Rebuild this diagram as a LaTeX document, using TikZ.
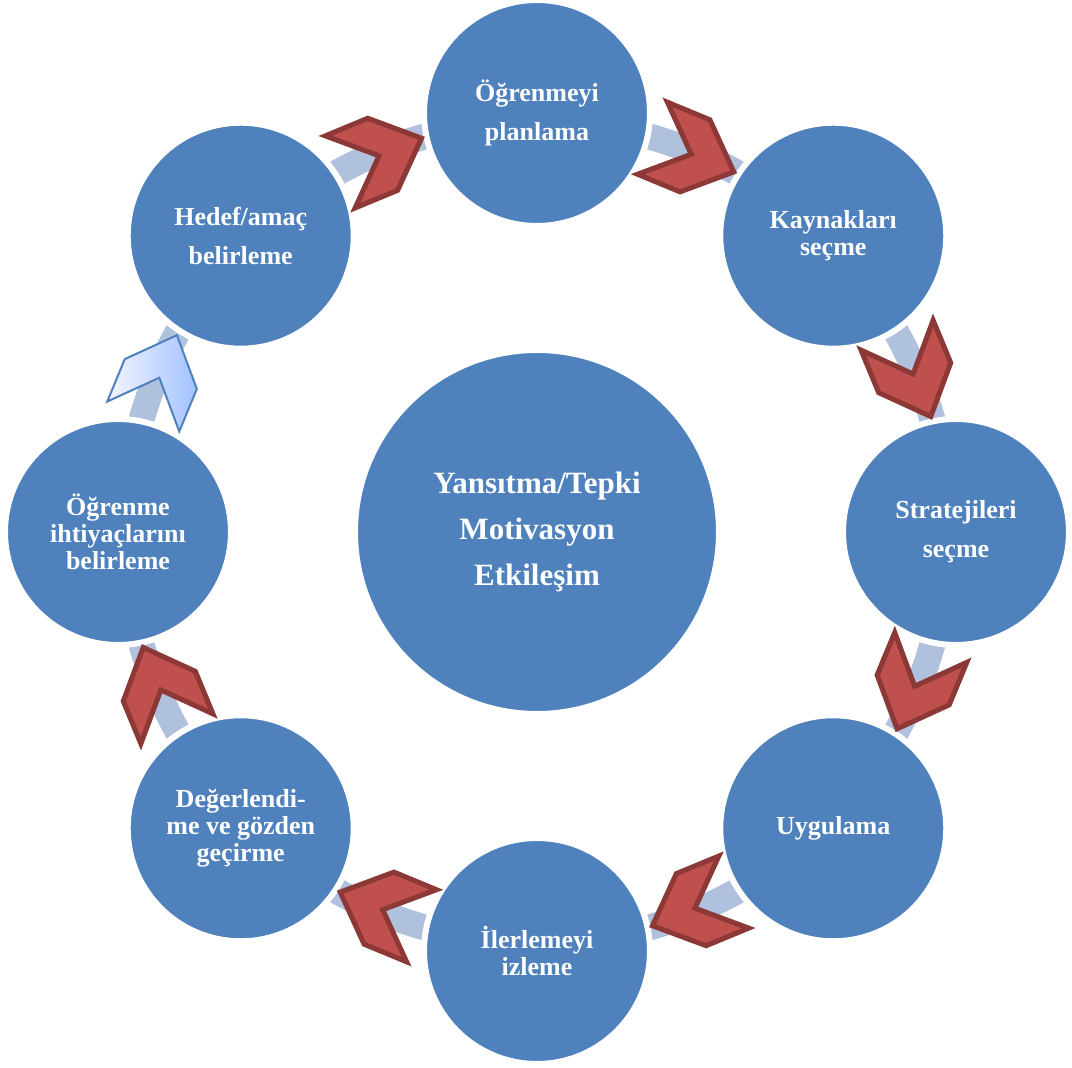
\documentclass[tikz,border=0pt]{standalone}
\usepackage{fontspec}
\setmainfont{Liberation Serif}

\definecolor{circblue}{HTML}{4F81BD}
\definecolor{bandblue}{HTML}{B0C1DE}
\definecolor{chevred}{HTML}{C0504D}
\definecolor{chevline}{HTML}{8C3836}
\definecolor{chevlight}{HTML}{A3C2FF}

\tikzset{
  stage/.style={circle, fill=circblue, draw=white, line width=3pt,
    minimum size=113pt, inner sep=0pt, text=white, align=center,
    font=\bfseries\fontsize{13}{13.5}\selectfont},
  hub/.style={stage, minimum size=182pt,
    font=\bfseries\fontsize{15.5}{23}\selectfont},
  band/.style={line width=13pt, bandblue},
  redchev/.style={fill=chevred, draw=chevline, line width=2.5pt, line join=miter},
  bluechev/.style={left color=blue!4!white, right color=chevlight,
    draw=circblue, line width=1pt, line join=miter}
}

% chevron on the ring, pointing clockwise
\newcommand{\arrowchev}[2][redchev]{%
  \path[#1, shift={(#2:408)}, rotate=#2-90]
    (-44,39) -- (2,39) -- (44,0) -- (2,-39) -- (-44,-39) -- (-2,0) -- cycle;}

\begin{document}
\begin{tikzpicture}[x=0.5pt, y=0.5pt]
  \useasboundingbox (-537,-536) rectangle (535,532);

  % Ring behind the circles
  \draw[band] (0,0) circle (411);

  % Centre circle
  \node[hub] (merkez) at (0,0) {Yansıtma/Tepki\\Motivasyon\\Etkileşim};

  % Stages of the cycle
  \node[stage] (planlama) at (90:419) {Öğrenmeyi\\[6pt]planlama};
  \node[stage] (kaynak) at (45:419) {Kaynakları\\seçme};
  \node[stage] (strateji) at (0:419) {Stratejileri\\[6pt]seçme};
  \node[stage] (uygulama) at (-45:419) {Uygulama};
  \node[stage] (izleme) at (-90:419) {İlerlemeyi\\izleme};
  \node[stage] (degerlendirme) at (-135:419) {Değerlendi-\\me ve gözden\\geçirme};
  \node[stage] (ihtiyac) at (180:419) {Öğrenme\\ihtiyaçlarını\\belirleme};
  \node[stage] (hedef) at (135:419) {Hedef/amaç\\[6pt]belirleme};

  % Chevrons
  \arrowchev{112.5}
  \arrowchev{67.5}
  \arrowchev{22.5}
  \arrowchev{-22.5}
  \arrowchev{-67.5}
  \arrowchev{-112.5}
  \arrowchev{-157.5}
  \arrowchev[bluechev]{157.5}
\end{tikzpicture}
\end{document}
